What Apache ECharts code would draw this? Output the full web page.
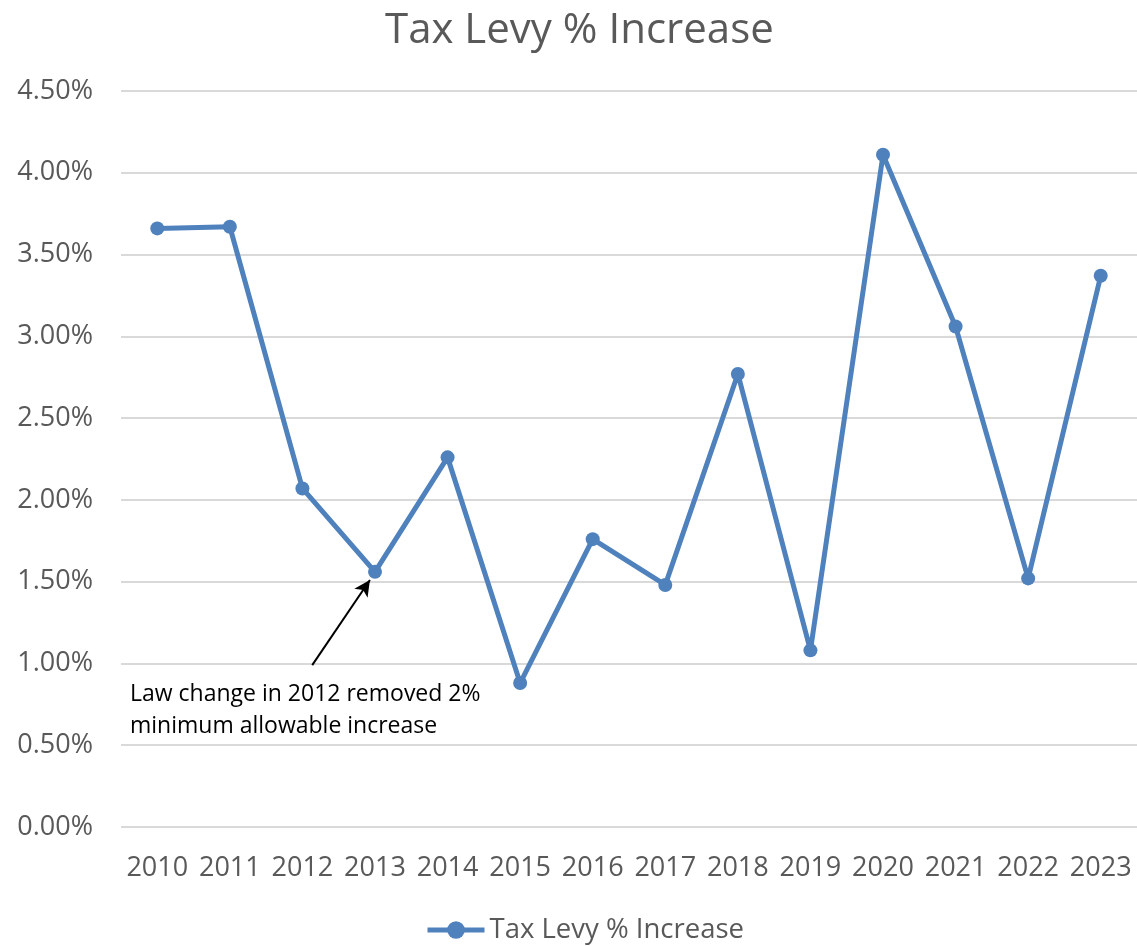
<!DOCTYPE html>
<html>
<head>
<meta charset="utf-8">
<script src="https://cdn.jsdelivr.net/npm/echarts@6/dist/echarts.min.js"></script>
<style>html,body{margin:0;padding:0;background:#fff}#c{width:1137px;height:946px}</style>
</head>
<body>
<div id="c"></div>
<script>
var categories = ['2010','2011','2012','2013','2014','2015','2016','2017','2018','2019','2020','2021','2022','2023'];
var levyIncrease = [3.66, 3.67, 2.07, 1.56, 2.26, 0.88, 1.76, 1.48, 2.77, 1.08, 4.11, 3.06, 1.52, 3.37];
var seriesName = 'Tax Levy % Increase';
var annotationText = 'Law change in 2012 removed 2%\nminimum allowable increase';
var arrowFrom = [2.135, 0.99];
var arrowTo = [2.93, 1.51];

var font = '"Open Sans", "Noto Sans", sans-serif';
var chart = echarts.init(document.getElementById('c'));
chart.setOption({
  animation: false,
  textStyle: {fontFamily: font},
  title: {
    text: 'Tax Levy % Increase', left: 380, top: 5,
    textStyle: {fontSize: 42, fontWeight: 'normal', color: '#595959', fontFamily: font}
  },
  legend: {
    data: [seriesName], bottom: -3, left: 420,
    itemWidth: 57, itemHeight: 22, itemGap: 4,
    lineStyle: {width: 5},
    textStyle: {fontSize: 27.5, color: '#595959', fontFamily: font}
  },
  grid: {left: 121, right: 0, top: 91, bottom: 119, containLabel: false},
  xAxis: [{
    type: 'category', data: categories, boundaryGap: true,
    axisLine: {show: false}, axisTick: {show: false},
    axisLabel: {fontSize: 27, color: '#595959', margin: 28, interval: 0, fontFamily: font}
  }, {
    type: 'value', min: -0.5, max: 13.5, show: false
  }],
  yAxis: {
    type: 'value', min: 0, max: 4.5, interval: 0.5,
    axisLine: {show: false}, axisTick: {show: false},
    splitLine: {lineStyle: {color: '#d9d9d9', width: 2}},
    axisLabel: {fontSize: 27, color: '#595959', margin: 28, fontFamily: font,
      formatter: function (v) { return v.toFixed(2) + '%'; }}
  },
  series: [{
    name: seriesName, type: 'line', data: levyIncrease, xAxisIndex: 0,
    symbol: 'circle', symbolSize: 14,
    lineStyle: {color: '#4f81bd', width: 5},
    itemStyle: {color: '#4f81bd'}
  }, {
    name: 'annotation', type: 'line', data: [], xAxisIndex: 1,
    markLine: {
      silent: true, symbol: ['none', 'arrow'], symbolSize: [12, 16],
      lineStyle: {color: '#000', width: 2, type: 'solid'},
      label: {show: false},
      data: [[{coord: arrowFrom}, {coord: arrowTo}]]
    }
  }],
  graphic: [{
    type: 'text', left: 130, top: 678,
    style: {text: annotationText, fontSize: 23, lineHeight: 32, fill: '#000', fontFamily: font}
  }]
});
</script>
</body>
</html>
